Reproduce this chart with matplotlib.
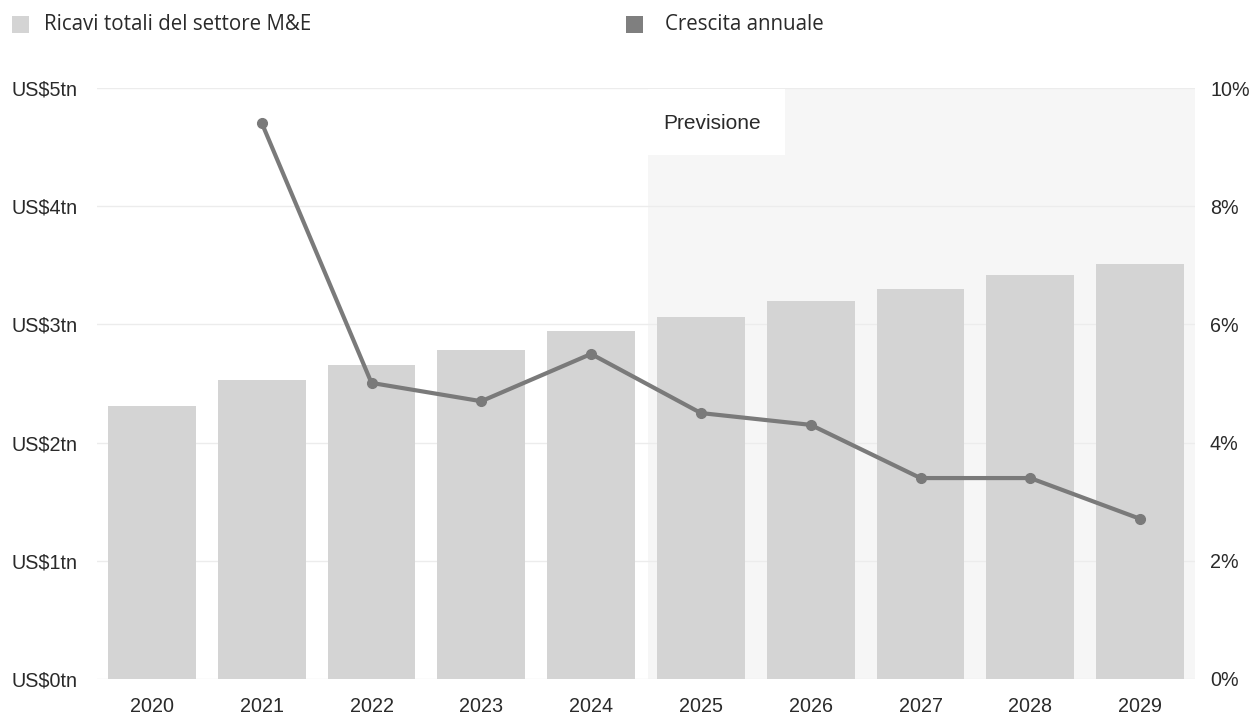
import matplotlib
matplotlib.use("Agg")
import matplotlib.pyplot as plt
from matplotlib.patches import Rectangle
from matplotlib.ticker import FuncFormatter, MultipleLocator

years = ["2020", "2021", "2022", "2023", "2024", "2025", "2026", "2027", "2028", "2029"]
revenue_tn = [2.31, 2.53, 2.66, 2.78, 2.94, 3.06, 3.20, 3.30, 3.42, 3.51]
growth_pct = [None, 9.41, 5.01, 4.70, 5.50, 4.50, 4.30, 3.40, 3.40, 2.71]
forecast_start_index = 5
legend_labels = ["Ricavi totali del settore M&E", "Crescita annuale"]
forecast_label = "Previsione"

W, H = 1254, 715
fig = plt.figure(figsize=(W / 100, H / 100), dpi=100)
ax = fig.add_axes([97 / W, 1 - 679 / H, (1195 - 97) / W, (679 - 88) / H])
ax2 = ax.twinx()

tick_font = "Liberation Sans"
text_color = "#2a2a2a"
PX = 72 / 100  # points per pixel

x = list(range(len(years)))
ax.set_xlim(-0.5, len(years) - 0.5)
ax.set_ylim(0, 5)
ax2.set_ylim(0, 10)

# forecast shading
ax.axvspan(forecast_start_index - 0.48, len(years) - 0.5, color="#f6f6f6", zorder=0, lw=0)

# grid
for v in range(0, 6):
    ax.axhline(v, color="#ececec", lw=1.0, zorder=0.5)

ax.bar(x, revenue_tn, width=0.8, color="#d4d4d4", zorder=2)

gx = [i for i, g in zip(x, growth_pct) if g is not None]
gy = [g for g in growth_pct if g is not None]
ax2.plot(gx, gy, color="#7a7a7a", lw=3, marker="o", ms=7, zorder=3,
         solid_capstyle="round")

# forecast label box
ax.add_patch(Rectangle((forecast_start_index - 0.48, 5 * (679 - 155) / (679 - 88)),
                       1.25, 5 * (155 - 89) / (679 - 88), facecolor="white",
                       edgecolor="none", zorder=1))
ax.text(forecast_start_index - 0.34, 5 * (679 - 124) / (679 - 88), forecast_label,
        fontsize=15, family="Liberation Sans", color=text_color, va="center", ha="left", zorder=4)

for a in (ax, ax2):
    for s in a.spines.values():
        s.set_visible(False)
    a.tick_params(length=0)

ax.set_xticks(x)
ax.set_xticklabels(years, fontsize=14.2, family=tick_font, color=text_color)
ax.tick_params(axis="x", pad=13)

ax.yaxis.set_major_locator(MultipleLocator(1))
ax.yaxis.set_major_formatter(FuncFormatter(lambda v, p: f"US${int(v)}tn"))
ax.tick_params(axis="y", labelsize=14.2, labelcolor=text_color, pad=(97 - 11) * PX)
for lbl in ax.get_yticklabels():
    lbl.set_family(tick_font)
    lbl.set_horizontalalignment("left")

ax2.yaxis.set_major_locator(MultipleLocator(2))
ax2.yaxis.set_major_formatter(FuncFormatter(lambda v, p: f"{int(v)}%"))
ax2.tick_params(axis="y", labelsize=14.2, labelcolor=text_color, pad=(1210 - 1195) * PX)
for lbl in ax2.get_yticklabels():
    lbl.set_family(tick_font)

# legend
fig.patches.append(Rectangle((12 / W, 1 - 33 / H), 17 / W, 17 / H,
                             transform=fig.transFigure, facecolor="#d4d4d4", edgecolor="none"))
fig.text(44 / W, 1 - 24 / H, legend_labels[0], fontsize=14.8, family="Open Sans",
         color=text_color, va="center", ha="left")
fig.patches.append(Rectangle((626 / W, 1 - 33 / H), 17 / W, 17 / H,
                             transform=fig.transFigure, facecolor="#7f7f7f", edgecolor="none"))
fig.text(665 / W, 1 - 24 / H, legend_labels[1], fontsize=14.8, family="Open Sans",
         color=text_color, va="center", ha="left")

fig.savefig("out.png", dpi=100, facecolor="white")
